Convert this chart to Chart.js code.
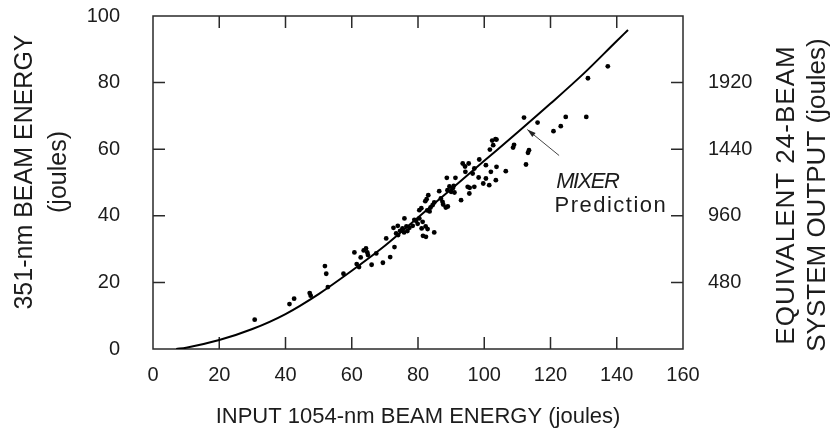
<!DOCTYPE html>
<html>
<head>
<meta charset="utf-8">
<script src="https://cdn.jsdelivr.net/npm/chart.js@4.4.1/dist/chart.umd.min.js"></script>
<style>
  body { margin: 0; background: #fff; }
  #wrap { width: 833px; height: 436px; position: relative; }
</style>
</head>
<body>
<div id="wrap"><canvas id="mixChart"></canvas></div>
<script>
// measured shots: input 1054-nm energy vs 351-nm output energy (joules)
const shotX = [30.7, 41.2, 42.6, 47.3, 47.6, 51.9, 52.3, 52.8, 57.5, 60.8,
    61.5, 62.2, 62.7, 64.3, 64.7, 64.9, 66.0, 67.4, 69.4, 70.4,
    71.6, 72.6, 72.9, 73.4, 73.9, 74.6, 75.3, 75.8, 75.9, 76.5,
    77.4, 78.4, 79.4, 79.9, 80.4, 80.4, 81.0, 81.4, 81.1, 81.5,
    82.4, 82.3, 82.9, 84.9, 82.2, 82.6, 83.1, 82.8, 83.5, 84.4,
    86.4, 86.9, 87.4, 87.6, 88.4, 89.0, 88.7, 88.9, 90.0, 90.5,
    91.0, 91.3, 93.0, 93.5, 94.2, 94.3, 95.0, 95.5, 95.3, 95.6,
    96.5, 97.0, 97.0, 98.3, 98.5, 99.7, 100.5, 100.5, 101.5, 101.7,
    102.4, 102.7, 103.4, 103.7, 102.0, 103.7, 103.5, 106.5, 108.7, 109.0,
    112.0, 113.2, 113.5, 112.6, 116.1, 120.9, 123.1, 124.6, 130.8, 131.3,
    137.3, 74.0, 76.8, 78.9, 83.8, 84.9, 89.5, 90.8, 63.6];
const shotY = [8.8, 13.5, 15.1, 16.8, 16.0, 24.9, 22.6, 18.6, 22.6, 29.0,
    25.5, 24.6, 27.5, 30.2, 29.0, 28.2, 25.3, 28.7, 25.9, 33.2,
    27.6, 36.4, 30.6, 34.7, 37.0, 35.5, 36.2, 35.0, 39.2, 36.8,
    36.4, 37.0, 38.5, 37.6, 39.2, 41.7, 42.3, 38.2, 36.2, 34.0,
    33.7, 36.8, 36.0, 35.0, 44.4, 45.0, 46.2, 41.6, 41.3, 43.2,
    47.4, 45.2, 44.2, 43.4, 42.5, 42.8, 51.4, 47.7, 47.2, 48.3,
    47.0, 51.4, 44.7, 55.7, 54.8, 53.2, 48.7, 46.7, 55.7, 48.4,
    52.7, 54.2, 48.7, 51.5, 56.9, 49.7, 55.2, 51.2, 49.2, 59.9,
    62.6, 61.2, 63.0, 62.9, 53.2, 54.7, 50.7, 53.4, 60.5, 61.3,
    69.5, 58.9, 59.7, 55.4, 68.0, 65.4, 66.9, 69.7, 69.7, 81.3,
    84.9, 34.2, 35.4, 38.8, 42.5, 44.0, 48.8, 49.0, 29.6];

// MIXER prediction curve
const curveX = [7, 10, 20, 30, 40, 50, 60, 70, 80, 90, 100, 110, 120, 130, 140, 143.4];
const curveY = [0, 0.4, 2.7, 6, 10.5, 16.5, 23.5, 31, 39.5, 48, 56.5, 65, 73.7, 82.7, 92.5, 95.8];

const xTicks = [0, 20, 40, 60, 80, 100, 120, 140, 160];
const leftTicks = [0, 20, 40, 60, 80, 100];
const rightTicks = [480, 960, 1440, 1920];

const FONT = 'Liberation Sans, Arial, sans-serif';
const INK = '#1c1c1c';

function spaced(ctx, text, x, y, spacing) {
    ctx.letterSpacing = spacing + 'px';
    ctx.fillText(text, x, y);
    ctx.letterSpacing = '0px';
}

// fixed axis boxes, no extra label padding at top
function fixWidth(w) {
    return s => {
        s.width = w;
        s.paddingTop = 0;
        s.paddingBottom = 0;
    };
}

// box with inward tick marks, the titles and the MIXER note
const paperPlugin = {
    id: 'paper',
    beforeDatasetsDraw(chart) {
        const ctx = chart.ctx;
        const a = chart.chartArea;
        const sx = chart.scales.x, sy = chart.scales.y, sy2 = chart.scales.y2;
        const len = 12;
        ctx.save();
        ctx.strokeStyle = '#2a2a2a';
        ctx.lineWidth = 1.5;
        ctx.strokeRect(a.left, a.top, a.right - a.left, a.bottom - a.top);
        ctx.beginPath();
        xTicks.slice(1, -1).forEach(v => {
            const px = sx.getPixelForValue(v);
            ctx.moveTo(px, a.bottom); ctx.lineTo(px, a.bottom - len);
            ctx.moveTo(px, a.top); ctx.lineTo(px, a.top + len);
        });
        leftTicks.slice(1, -1).forEach(v => {
            const py = sy.getPixelForValue(v);
            ctx.moveTo(a.left, py); ctx.lineTo(a.left + len, py);
        });
        rightTicks.forEach(v => {
            const py = sy2.getPixelForValue(v);
            ctx.moveTo(a.right, py); ctx.lineTo(a.right - len, py);
        });
        ctx.stroke();
        ctx.restore();
    },
    afterDraw(chart) {
        const ctx = chart.ctx;
        const a = chart.chartArea;
        const sx = chart.scales.x, sy = chart.scales.y;
        ctx.save();
        ctx.fillStyle = INK;
        ctx.textAlign = 'center';
        ctx.textBaseline = 'middle';

        // left title
        ctx.save();
        ctx.font = '25px ' + FONT;
        ctx.translate(a.left - 128, 172);
        ctx.rotate(-Math.PI / 2);
        ctx.fillText('351-nm BEAM ENERGY', 0, 0);
        ctx.fillText('(joules)', 0, 34);
        ctx.restore();

        // right title
        ctx.save();
        ctx.font = '26px ' + FONT;
        ctx.translate(a.right + 104, 195);
        ctx.rotate(-Math.PI / 2);
        spaced(ctx, 'EQUIVALENT 24-BEAM', 0, 0, 1);
        ctx.fillText('SYSTEM OUTPUT (joules)', 0, 31);
        ctx.restore();

        // MIXER note + arrow
        ctx.textAlign = 'left';
        ctx.font = 'italic 22px ' + FONT;
        spaced(ctx, 'MIXER', sx.getPixelForValue(121.7), sy.getPixelForValue(50.3), -1.5);
        ctx.font = '22px ' + FONT;
        spaced(ctx, 'Prediction', sx.getPixelForValue(121.2), sy.getPixelForValue(43.1), 1.5);

        const x0 = sx.getPixelForValue(122.6), y0 = sy.getPixelForValue(58.1);
        const x1 = sx.getPixelForValue(113.0), y1 = sy.getPixelForValue(65.9);
        const ang = Math.atan2(y1 - y0, x1 - x0);
        ctx.strokeStyle = '#444';
        ctx.lineWidth = 1;
        ctx.beginPath();
        ctx.moveTo(x0, y0); ctx.lineTo(x1, y1);
        ctx.stroke();
        ctx.fillStyle = '#222';
        ctx.beginPath();
        ctx.moveTo(x1, y1);
        ctx.lineTo(x1 - 9 * Math.cos(ang - 0.3), y1 - 9 * Math.sin(ang - 0.3));
        ctx.lineTo(x1 - 9 * Math.cos(ang + 0.3), y1 - 9 * Math.sin(ang + 0.3));
        ctx.closePath();
        ctx.fill();
        ctx.restore();
    }
};

const shots = shotX.map((x, i) => ({ x: x, y: shotY[i] }));
const curve = curveX.map((x, i) => ({ x: x, y: curveY[i] }));

new Chart(document.getElementById('mixChart'), {
    type: 'scatter',
    data: {
        datasets: [
            {
                label: 'MIXER Prediction',
                data: curve,
                showLine: true,
                borderColor: '#000',
                borderWidth: 2,
                pointRadius: 0,
                cubicInterpolationMode: 'monotone',
                yAxisID: 'y'
            },
            {
                label: 'Shots',
                data: shots,
                backgroundColor: '#000',
                borderColor: '#000',
                pointRadius: 2.4,
                borderWidth: 0,
                yAxisID: 'y'
            }
        ]
    },
    options: {
        responsive: true,
        maintainAspectRatio: false,
        animation: false,
        layout: {
            padding: { left: 0, right: 0, top: 16, bottom: 0 }
        },
        plugins: {
            legend: { display: false },
            tooltip: { enabled: false }
        },
        scales: {
            x: {
                type: 'linear',
                min: 0,
                max: 160,
                afterFit: s => { s.height = 87; },
                grid: { display: false, drawTicks: false },
                border: { display: false },
                ticks: {
                    stepSize: 20,
                    padding: 14,
                    color: INK,
                    font: { family: FONT, size: 20 }
                },
                title: {
                    display: true,
                    text: 'INPUT 1054-nm BEAM ENERGY (joules)',
                    color: INK,
                    font: { family: FONT, size: 22, lineHeight: 1 },
                    padding: { top: 0, bottom: 8 }
                }
            },
            y: {
                position: 'left',
                min: 0,
                max: 100,
                afterFit: fixWidth(153),
                grid: { display: false, drawTicks: false },
                border: { display: false },
                ticks: {
                    stepSize: 20,
                    padding: 33,
                    color: INK,
                    font: { family: FONT, size: 20 }
                }
            },
            y2: {
                position: 'right',
                min: 0,
                max: 2400,
                afterFit: fixWidth(150),
                grid: { display: false, drawTicks: false },
                border: { display: false },
                ticks: {
                    stepSize: 480,
                    padding: 25,
                    color: INK,
                    font: { family: FONT, size: 20 },
                    callback: v => (rightTicks.includes(v) ? v : '')
                }
            }
        }
    },
    plugins: [paperPlugin]
});
</script>
</body>
</html>
